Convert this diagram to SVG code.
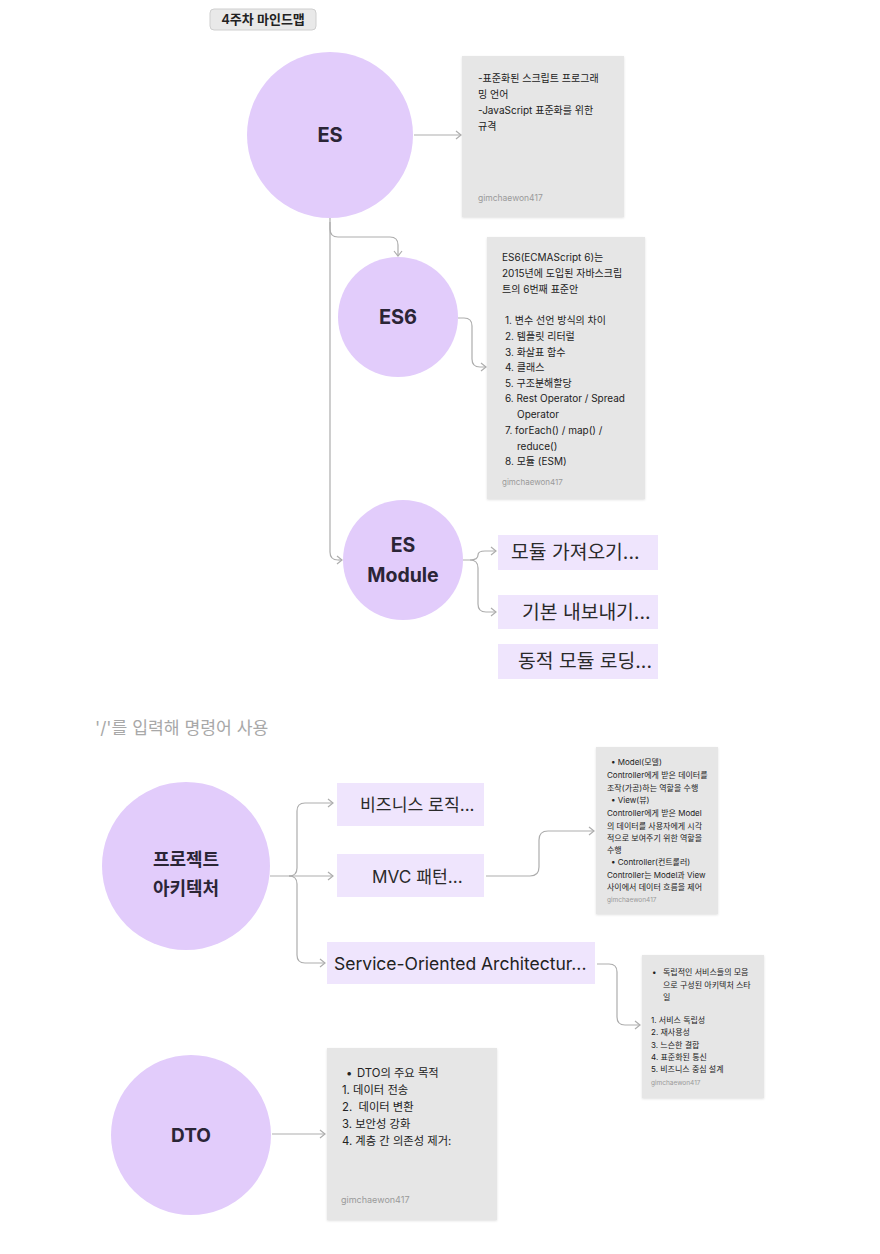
<svg xmlns="http://www.w3.org/2000/svg" width="880" height="1254" viewBox="0 0 880 1254">
<defs>
<marker id="arr" markerWidth="10" markerHeight="10" refX="7" refY="5" orient="auto" markerUnits="userSpaceOnUse">
<path d="M2,1 L7,5 L2,9" fill="none" stroke="#adadad" stroke-width="1.2"/>
</marker>
<filter id="sh" x="-10%" y="-10%" width="120%" height="120%">
<feDropShadow dx="0" dy="1" stdDeviation="1.2" flood-color="#000" flood-opacity="0.12"/>
</filter>
<style>
text{font-family:Inter,"Noto Sans CJK KR",sans-serif;fill:#222}
.circle{fill:#e2ccfb}
.ctitle{font-weight:700;fill:#2b2536;text-anchor:middle}
.note{fill:#e6e6e6;filter:url(#sh)}
.child{fill:#efe5fd}
.ctext{font-size:17.2px;fill:#2a2a2a}
.mtext{font-size:19.3px;fill:#2a2a2a}
.sig{fill:#9a9a9a}
.hint{fill:#a8a8a8}
.conn path{fill:none;stroke:#adadad;stroke-width:1.2;marker-end:url(#arr)}
.conn path.plain{marker-end:none}
</style>
</defs>
<rect width="880" height="1254" fill="#ffffff"/>

<g id="title">
<rect x="210" y="9" width="106" height="21" rx="4" fill="#e9e9e9" stroke="#cfcfcf" stroke-width="1"/>
<text x="263" y="24" font-size="13" text-anchor="middle" font-weight="600" fill="#333">4주차 마인드맵</text>
</g>

<g class="conn" id="connectors">
<path d="M414,135 L461,135"/>
<path class="plain" d="M330,218 L330,552 Q330,560 338,560"/>
<path d="M338,560 L342,560"/>
<path d="M330,222 L330,229 Q330,237 338,237 L390,237 Q398,237 398,245 L398,256"/>
<path d="M458,318 L464,318 Q472,318 472,326 L472,359 Q472,367 480,367 L486,367"/>
<path d="M463,560 L470,560 Q478,560 478,555 Q478,551 485,551 L496,551"/>
<path d="M470,560 Q478,560 478,568 L478,604 Q478,612 486,612 L496,612"/>
<path d="M270,876 L289,876 Q297,876 297,868 L297,811 Q297,803 305,803 L333,803"/>
<path d="M289,876 L333,876"/>
<path d="M289,876 Q297,876 297,884 L297,955 Q297,963 305,963 L325,963"/>
<path d="M486,876 L530,876 Q539,876 539,867 L539,840 Q539,831 548,831 L594,831"/>
<path d="M597,964 L609,964 Q617,964 617,972 L617,1017 Q617,1025 625,1025 L640,1025"/>
<path d="M272,1134 L325,1134"/>
</g>

<g id="node-es">
<circle class="circle" cx="330" cy="135" r="83"/>
<text class="ctitle" x="330" y="142" font-size="20">ES</text>
</g>

<g id="note-es">
<rect class="note" x="462" y="56" width="162" height="161"/>
<text x="478" y="82" font-size="10">-표준화된 스크립트 프로그래</text>
<text x="478" y="98" font-size="10">밍 언어</text>
<text x="478" y="114" font-size="10">-JavaScript 표준화를 위한</text>
<text x="478" y="130" font-size="10">규격</text>
<text class="sig" x="478" y="201" font-size="8.5">gimchaewon417</text>
</g>

<g id="node-es6">
<circle class="circle" cx="398" cy="317" r="60"/>
<text class="ctitle" x="398" y="324" font-size="20">ES6</text>
</g>

<g id="note-es6">
<rect class="note" x="487" y="237" width="158" height="262"/>
<g font-size="10">
<text x="502" y="261">ES6(ECMAScript 6)는</text>
<text x="502" y="277">2015년에 도입된 자바스크립</text>
<text x="502" y="293">트의 6번째 표준안</text>
<text x="505" y="324">1. 변수 선언 방식의 차이</text>
<text x="505" y="340">2. 템플릿 리터럴</text>
<text x="505" y="356">3. 화살표 함수</text>
<text x="505" y="371">4. 클래스</text>
<text x="505" y="387">5. 구조분해할당</text>
<text x="505" y="402">6. Rest Operator / Spread</text>
<text x="517" y="418">Operator</text>
<text x="505" y="434">7. forEach() / map() /</text>
<text x="517" y="450">reduce()</text>
<text x="505" y="465">8. 모듈 (ESM)</text>
</g>
<text class="sig" x="502" y="485" font-size="8">gimchaewon417</text>
</g>

<g id="node-esmodule">
<circle class="circle" cx="403" cy="560" r="60"/>
<text class="ctitle" x="403" y="552" font-size="19.5">ES</text>
<text class="ctitle" x="403" y="582" font-size="19.5">Module</text>
</g>

<g id="child-import">
<rect class="child" x="498" y="535" width="160" height="35"/>
<text class="mtext" x="511" y="559">모듈 가져오기...</text>
</g>
<g id="child-export">
<rect class="child" x="498" y="595" width="160" height="34"/>
<text class="mtext" x="522" y="619">기본 내보내기...</text>
</g>
<g id="child-dynamic">
<rect class="child" x="498" y="644" width="160" height="35"/>
<text class="mtext" x="518" y="668">동적 모듈 로딩...</text>
</g>

<g id="hint">
<text class="hint" x="95" y="734" font-size="17.2">'/'를 입력해 명령어 사용</text>
</g>

<g id="node-arch">
<circle class="circle" cx="186" cy="866" r="84"/>
<text class="ctitle" x="186" y="866" font-size="18">프로젝트</text>
<text class="ctitle" x="186" y="895" font-size="18">아키텍처</text>
</g>

<g id="child-business">
<rect class="child" x="337" y="783" width="147" height="43"/>
<text class="ctext" x="360" y="811">비즈니스 로직...</text>
</g>
<g id="child-mvc">
<rect class="child" x="337" y="854" width="147" height="43"/>
<text class="ctext" x="372" y="883">MVC 패턴...</text>
</g>
<g id="child-soa">
<rect class="child" x="327" y="942" width="268" height="42"/>
<text x="334" y="970" font-size="17.5" fill="#2a2a2a">Service-Oriented Architectur...</text>
</g>

<g id="note-mvc">
<rect class="note" x="596" y="747" width="122" height="167"/>
<g font-size="8">
<text x="611" y="765">• Model(모델)</text>
<text x="607" y="778">Controller에게 받은 데이터를</text>
<text x="607" y="791">조작(가공)하는 역할을 수행</text>
<text x="611" y="803">• View(뷰)</text>
<text x="607" y="816">Controller에게 받은 Model</text>
<text x="607" y="829">의 데이터를 사용자에게 시각</text>
<text x="607" y="841">적으로 보여주기 위한 역할을</text>
<text x="607" y="853">수행</text>
<text x="611" y="865">• Controller(컨트롤러)</text>
<text x="607" y="878">Controller는 Model과 View</text>
<text x="607" y="890">사이에서 데이터 흐름을 제어</text>
</g>
<text class="sig" x="607" y="902" font-size="6.5">gimchaewon417</text>
</g>

<g id="note-soa">
<rect class="note" x="642" y="955" width="122" height="143"/>
<g font-size="8">
<text x="652" y="975">•</text>
<text x="663" y="975">독립적인 서비스들의 모음</text>
<text x="663" y="988">으로 구성된 아키텍처 스타</text>
<text x="663" y="1000">일</text>
<text x="651" y="1023">1. 서비스 독립성</text>
<text x="651" y="1035">2. 재사용성</text>
<text x="651" y="1048">3. 느슨한 결합</text>
<text x="651" y="1060">4. 표준화된 통신</text>
<text x="651" y="1072">5. 비즈니스 중심 설계</text>
</g>
<text class="sig" x="651" y="1085" font-size="6.5">gimchaewon417</text>
</g>

<g id="node-dto">
<circle class="circle" cx="191" cy="1135" r="80"/>
<text class="ctitle" x="191" y="1142" font-size="19">DTO</text>
</g>

<g id="note-dto">
<rect class="note" x="327" y="1048" width="170" height="172"/>
<g font-size="11.3">
<text x="346" y="1077">•</text>
<text x="357" y="1077">DTO의 주요 목적</text>
<text x="342" y="1094">1. 데이터 전송</text>
<text x="342" y="1111" xml:space="preserve">2.  데이터 변환</text>
<text x="342" y="1128">3. 보안성 강화</text>
<text x="342" y="1145">4. 계층 간 의존성 제거:</text>
</g>
<text class="sig" x="341" y="1203" font-size="9">gimchaewon417</text>
</g>
</svg>
